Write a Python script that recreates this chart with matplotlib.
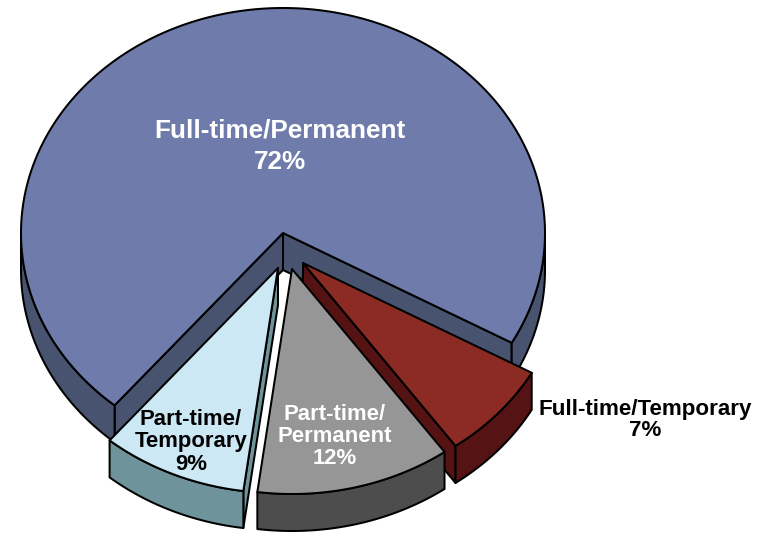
import numpy as np
import matplotlib
matplotlib.use('Agg')
import matplotlib.pyplot as plt
from matplotlib.patches import Polygon

plt.rcParams['font.family'] = ['Liberation Sans', 'DejaVu Sans']

# DATA #
slice_names = ['Full-time/Permanent', 'Full-time/Temporary', 'Part-time/\nPermanent', 'Part-time/\nTemporary']
slice_shares = [72, 7, 12, 9]

# STYLE #
top_colors = ['#6E7BAB', '#8B2B24', '#969696', '#CBE8F4']
side_colors = ['#47536F', '#551313', '#4D4D4D', '#6F939A']
text_colors = ['white', 'black', 'white', 'black']
label_spots = [(280, 146.5), (645, 420), (335, 436.5), (191, 442)]
label_sizes = [18.8, 16.1, 15.9, 15.9]
label_spacing = [1.38, 1.05, 1.08, 1.08]
explode = [(0, 0), (20, 30), (9, 36), (-5, 35)]

center_x, center_y = 283, 233
radius_x, radius_y = 262, 225
depth = 37
start_angle = 130  # degrees clockwise on screen from the +x axis


def rim(cx, cy, a, b):
    t = np.radians(np.linspace(a, b, max(2, int(abs(b - a) * 2))))
    return np.column_stack((cx + radius_x * np.cos(t), cy + radius_y * np.sin(t)))


def flat(ax, pts, color, z):
    ax.add_patch(Polygon(pts, closed=True, facecolor=color, edgecolor='black',
                         linewidth=1.45, joinstyle='round', zorder=z))


def draw_slice(ax, i, a, b, z):
    cx = center_x + explode[i][0]
    cy = center_y + explode[i][1]
    apex = np.array([[cx, cy]])
    down = np.array([0, depth])

    # walls along the two straight edges, only if they face the viewer
    for edge, normal in ((a, a - 90), (b, b + 90)):
        if np.sin(np.radians(normal)) > 0:
            p = rim(cx, cy, edge, edge)[:1]
            flat(ax, np.vstack((apex, p, p + down, apex + down)), side_colors[i], z)

    # outer wall, front half of the ellipse only
    for lo, hi in ((a, min(b, 180)), (max(a, 360), min(b, 540))):
        if hi > lo:
            arc = rim(cx, cy, lo, hi)
            flat(ax, np.vstack((arc, (arc + down)[::-1])), side_colors[i], z)

    flat(ax, np.vstack((apex, rim(cx, cy, a, b))), top_colors[i], z + 0.5)


# VISUALIZATION #
fig = plt.figure(figsize=(7.72, 5.34), dpi=100)
ax = fig.add_axes([0, 0, 1, 1])
ax.set_xlim(0, 772)
ax.set_ylim(534, 0)
ax.axis('off')

sweeps = [share / sum(slice_shares) * 360 for share in slice_shares]
starts = start_angle + np.concatenate(([0], np.cumsum(sweeps)[:-1]))

for i in range(len(slice_shares)):
    draw_slice(ax, i, starts[i], starts[i] + sweeps[i], i + 1)

for i, (name, share) in enumerate(zip(slice_names, slice_shares)):
    ax.text(label_spots[i][0], label_spots[i][1], f'{name}\n{share}%', color=text_colors[i],
            fontsize=label_sizes[i], fontweight='bold', ha='center', va='center',
            linespacing=label_spacing[i], zorder=10)

fig.savefig('out.png', dpi=100)
